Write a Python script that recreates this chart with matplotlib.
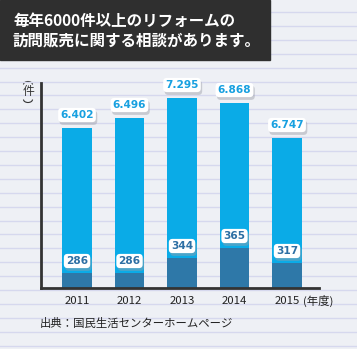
import matplotlib
matplotlib.use("Agg")
import matplotlib.pyplot as plt
import matplotlib.patheffects as pe
from matplotlib.patches import Rectangle, Arc

plt.rcParams["font.family"] = ["Noto Sans CJK JP", "DejaVu Sans"]

# data (numbers shown on the chart)
years = ["2011", "2012", "2013", "2014", "2015"]
total_labels = ["6.402", "6.496", "7.295", "6.868", "6.747"]
part_labels = ["286", "286", "344", "365", "317"]
# bar heights as drawn in the picture (the chart is not to scale)
total_height = [160, 170, 190, 185, 150]
part_height = [15, 15, 30, 40, 25]

W, H = 357, 349
BG = "#eef0f5"
LINE = "#d6d8ee"
LIGHT = "#0aabe7"
DARK = "#2e78a8"
AXIS = "#333333"

fig = plt.figure(figsize=(W / 100, H / 100), dpi=100)
fig.patch.set_facecolor(BG)

# background with ruled lines, pixel coordinates
bg = fig.add_axes([0, 0, 1, 1], zorder=0)
bg.set_xlim(0, W)
bg.set_ylim(H, 0)
bg.axis("off")
y = 12.0
while y < H:
    bg.axhline(y, color=LINE, lw=1.0)
    y += 13.9

# title box
bg.add_patch(Rectangle((0, 0), 270, 60, color="#2f2f2f", zorder=5))
bg.text(13, 20.5, "毎年6000件以上のリフォームの", color="white", fontsize=11.2,
        fontweight="bold", va="center", ha="left", zorder=6)
bg.text(13, 40.5, "訪問販売に関する相談があります。", color="white", fontsize=11.2,
        fontweight="bold", va="center", ha="left", zorder=6)

# unit label, written vertically: arcs above and below
bg.add_patch(Arc((28, 84.5), 9, 6, theta1=180, theta2=360, color=AXIS, lw=0.8))
bg.text(28, 92, "件", fontsize=8.5, color=AXIS, ha="center", va="center")
bg.add_patch(Arc((28, 99.5), 9, 6, theta1=0, theta2=180, color=AXIS, lw=0.8))

bg.text(40, 323, "出典：国民生活センターホームページ", fontsize=8.2, color="#222222",
        va="center", ha="left")

# main chart
ax = fig.add_axes([41 / W, (H - 288) / H, 278 / W, 205 / H], zorder=1)
ax.patch.set_alpha(0)
x = list(range(len(years)))
ax.bar(x, total_height, width=0.57, color=LIGHT, zorder=2)
ax.bar(x, part_height, width=0.57, color=DARK, zorder=3)
ax.set_xlim(-0.686, 4.61)
ax.set_ylim(0, 205)
for s in ["top", "right"]:
    ax.spines[s].set_visible(False)
for s in ["left", "bottom"]:
    ax.spines[s].set_color(AXIS)
    ax.spines[s].set_linewidth(2)
    ax.spines[s].set_zorder(4)
ax.set_xticks([])
ax.set_yticks([])


def tag(xi, yi, text, color, dy):
    t = ax.annotate(text, xy=(xi, yi), xytext=(0, dy), textcoords="offset pixels",
                    ha="center", va="center", fontsize=7.6, fontweight="bold",
                    family="DejaVu Sans", color=color, zorder=6, annotation_clip=False,
                    bbox=dict(boxstyle="round,pad=0.2,rounding_size=0.35",
                              fc="white", ec="none"))
    t.get_bbox_patch().set_path_effects(
        [pe.withSimplePatchShadow(offset=(1, -2), shadow_rgbFace="#9a9da6", alpha=0.45)])


for i in x:
    tag(i, total_height[i], total_labels[i], "#17a0e0", 13)
    tag(i, part_height[i], part_labels[i], "#2d6fa4", 12)
    ax.annotate(years[i], (i, 0), xycoords=("data", "axes fraction"), xytext=(0, -13),
                textcoords="offset pixels", ha="center", va="center", fontsize=8.2,
                color="#222222", annotation_clip=False)

ax.annotate("(年度)", (4, 0), xycoords=("data", "axes fraction"), xytext=(16.5, -13),
            textcoords="offset pixels", ha="left", va="center", fontsize=8.2,
            color="#222222", annotation_clip=False)

fig.savefig("out.png", dpi=100, facecolor=BG)
